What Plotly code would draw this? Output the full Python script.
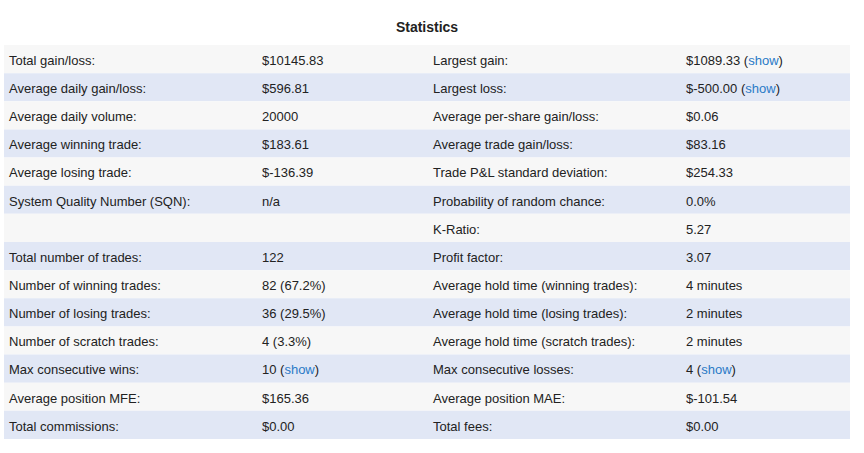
import plotly.graph_objects as go

W, H = 864, 453

labels_left = ["Total gain/loss:", "Average daily gain/loss:", "Average daily volume:",
               "Average winning trade:", "Average losing trade:", "System Quality Number (SQN):",
               "", "Total number of trades:", "Number of winning trades:", "Number of losing trades:",
               "Number of scratch trades:", "Max consecutive wins:", "Average position MFE:",
               "Total commissions:"]
values_left = ["$10145.83", "$596.81", "20000", "$183.61", "$-136.39", "n/a", "", "122",
               "82 (67.2%)", "36 (29.5%)", "4 (3.3%)", "10 (show)", "$165.36", "$0.00"]
labels_right = ["Largest gain:", "Largest loss:", "Average per-share gain/loss:",
                "Average trade gain/loss:", "Trade P&amp;L standard deviation:",
                "Probability of random chance:", "K-Ratio:", "Profit factor:",
                "Average hold time (winning trades):", "Average hold time (losing trades):",
                "Average hold time (scratch trades):", "Max consecutive losses:",
                "Average position MAE:", "Total fees:"]
values_right = ["$1089.33 (show)", "$-500.00 (show)", "$0.06", "$83.16", "$254.33", "0.0%",
                "5.27", "3.07", "4 minutes", "2 minutes", "2 minutes", "4 (show)", "$-101.54",
                "$0.00"]

LINK = "#2a7ac6"
TXT = "#222222"
ODD = "#f7f7f7"
EVEN = "#e1e7f5"
FONT = "Liberation Sans, Arial, Helvetica, sans-serif"

# layout (pixels): table box, column text starts, text baseline nudge
TABLE_LEFT, TABLE_RIGHT, TABLE_TOP, TABLE_BOTTOM = 4, 850, 45, 439
COL_TEXT_X = [9, 262, 433, 686]
TEXT_SHIFT = 2.5


def linkify(s):
    return s.replace("(show)", "(<span style='color:%s'>show</span>)" % LINK)


columns = [labels_left, [linkify(v) for v in values_left], labels_right,
           [linkify(v) for v in values_right]]
n_rows = len(labels_left)
rows = list(range(n_rows))
row_fill = [ODD if i % 2 == 0 else EVEN for i in rows]

fig = go.Figure()

# alternating row backgrounds
fig.add_trace(go.Bar(
    y=rows, x=[TABLE_RIGHT - TABLE_LEFT] * n_rows, base=TABLE_LEFT, orientation="h",
    width=1, marker=dict(color=row_fill, line=dict(width=0)), hoverinfo="skip",
    showlegend=False,
))

# cell texts
for cx, col in zip(COL_TEXT_X, columns):
    fig.add_trace(go.Scatter(
        x=[cx] * n_rows, y=rows, mode="text", text=col, textposition="middle right",
        textfont=dict(family=FONT, size=13, color=TXT), hoverinfo="skip",
        showlegend=False, cliponaxis=False, yaxis="y2",
    ))

fig.update_layout(
    width=W, height=H,
    margin=dict(l=0, r=0, t=0, b=0),
    paper_bgcolor="white", plot_bgcolor="rgba(0,0,0,0)",
    xaxis=dict(range=[0, W], domain=[0, 1], visible=False, fixedrange=True),
    yaxis=dict(range=[n_rows - 0.5, -0.5], domain=[1 - TABLE_BOTTOM / H, 1 - TABLE_TOP / H],
               visible=False, fixedrange=True),
    yaxis2=dict(range=[n_rows - 0.5, -0.5],
                domain=[1 - (TABLE_BOTTOM + TEXT_SHIFT) / H, 1 - (TABLE_TOP + TEXT_SHIFT) / H],
                visible=False, fixedrange=True, anchor="x"),
    title=dict(text="<b>Statistics</b>", x=427 / W, xanchor="center",
               y=1 - 27 / H, yanchor="middle", yref="container",
               font=dict(family=FONT, size=14, color=TXT)),
)

fig.write_html("out.html", config={"displayModeBar": False},
               post_script="document.body.style.margin='0';")
